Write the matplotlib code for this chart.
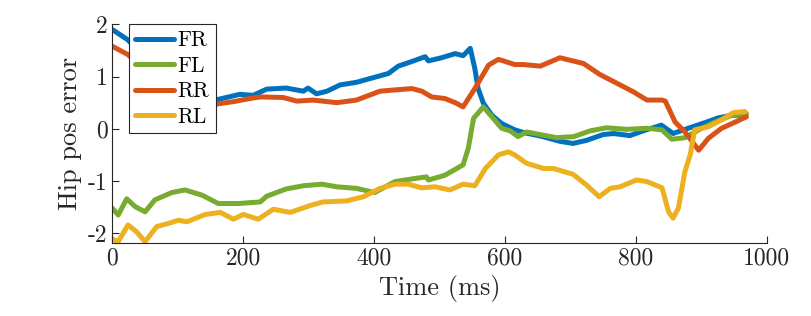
#!/usr/bin/env python3
"""Hip position error per leg over one stance window."""

import matplotlib

matplotlib.use("Agg")
import matplotlib.pyplot as plt

# series (time in ms, error in rad-ish units)
FR_T = [0, 12, 24, 60, 100, 130, 157, 195, 215, 236, 266, 292, 299, 312, 328, 348, 373, 399, 422,
        437, 458, 478, 483, 503, 524, 536, 547, 554, 559, 567, 580, 595, 615, 628, 658, 684, 704,
        725, 750, 766, 791, 811, 839, 857, 880, 906, 926, 947, 967]
FR_V = [1.90, 1.80, 1.70, 1.20, 0.80, 0.60, 0.55, 0.66, 0.64, 0.76, 0.78, 0.72, 0.78, 0.67, 0.72,
        0.84, 0.89, 0.98, 1.06, 1.20, 1.29, 1.38, 1.30, 1.36, 1.44, 1.40, 1.54, 1.15, 0.77, 0.49,
        0.26, 0.10, -0.02, -0.07, -0.15, -0.24, -0.28, -0.22, -0.11, -0.09, -0.13, -0.04, 0.07,
        -0.09, 0.01, 0.12, 0.21, 0.26, 0.26]

FL_T = [0, 9, 22, 35, 50, 65, 91, 111, 137, 162, 193, 226, 236, 266, 292, 320, 343, 373, 401,
        432, 463, 480, 483, 508, 536, 544, 552, 567, 580, 595, 608, 620, 633, 679, 705, 730, 755,
        786, 817, 840, 855, 875, 896, 921, 947, 969]
FL_V = [-1.52, -1.65, -1.34, -1.49, -1.59, -1.36, -1.22, -1.17, -1.27, -1.43, -1.43, -1.40,
        -1.29, -1.15, -1.09, -1.06, -1.11, -1.14, -1.22, -1.01, -0.95, -0.92, -0.98, -0.89,
        -0.69, -0.37, 0.20, 0.42, 0.23, 0.01, -0.04, -0.15, -0.06, -0.17, -0.15, -0.04, 0.02,
        -0.01, 0.01, -0.02, -0.20, -0.17, -0.02, 0.13, 0.26, 0.29]

RR_T = [0, 12, 24, 60, 100, 130, 157, 185, 210, 226, 261, 282, 307, 343, 373, 409, 427, 458,
        473, 488, 508, 524, 536, 554, 575, 590, 615, 628, 654, 684, 720, 745, 776, 796, 817,
        840, 845, 860, 875, 896, 911, 931, 952, 969]
RR_V = [1.58, 1.50, 1.42, 1.00, 0.70, 0.55, 0.47, 0.52, 0.58, 0.61, 0.60, 0.53, 0.55, 0.50,
        0.55, 0.72, 0.74, 0.77, 0.72, 0.61, 0.58, 0.50, 0.42, 0.77, 1.22, 1.33, 1.23, 1.23,
        1.20, 1.36, 1.25, 1.04, 0.84, 0.71, 0.55, 0.55, 0.53, 0.13, -0.06, -0.41, -0.18, 0.01,
        0.13, 0.23]

RL_T = [0, 9, 24, 37, 50, 68, 86, 101, 114, 142, 165, 185, 200, 223, 246, 272, 302, 322, 358,
        384, 409, 432, 452, 473, 493, 516, 536, 554, 570, 590, 605, 615, 633, 659, 674, 704,
        725, 744, 761, 776, 801, 817, 840, 850, 857, 865, 875, 883, 890, 911, 931, 949, 967]
RL_V = [-2.11, -2.16, -1.84, -1.97, -2.16, -1.87, -1.81, -1.75, -1.78, -1.64, -1.60, -1.73,
        -1.64, -1.73, -1.54, -1.60, -1.47, -1.40, -1.38, -1.30, -1.14, -1.06, -1.06, -1.13,
        -1.11, -1.17, -1.06, -1.09, -0.76, -0.50, -0.44, -0.50, -0.66, -0.76, -0.76, -0.87,
        -1.08, -1.30, -1.14, -1.11, -0.98, -1.01, -1.13, -1.59, -1.71, -1.52, -0.82, -0.50,
        -0.02, 0.04, 0.17, 0.31, 0.33]

LEGS = ["FR", "FL", "RR", "RL"]
X_TICKS = [0, 200, 400, 600, 800, 1000]
Y_TICKS = [-2, -1, 0, 1, 2]
Y_TICK_LABELS = ["-2", "-1", "0", "1", "2"]


def main() -> int:
    plt.rcParams["font.family"] = ["cmr10", "DejaVu Serif"]
    plt.rcParams["axes.formatter.use_mathtext"] = True

    fig = plt.figure(figsize=(8.11, 3.16), dpi=100)
    ax = fig.add_axes([0.1385, 0.232, 0.8069, 0.691])

    colors = {"FR": "#0072BD", "FL": "#77AC30", "RR": "#D95319", "RL": "#EDB120"}
    series = {"FR": (FR_T, FR_V), "FL": (FL_T, FL_V), "RR": (RR_T, RR_V), "RL": (RL_T, RL_V)}
    for leg in LEGS:
        t, v = series[leg]
        ax.plot(t, v, color=colors[leg], linewidth=3.6, label=leg, solid_capstyle="round")

    ax.set_xlim(0, 1000)
    ax.set_ylim(-2.18, 2)
    ax.set_xticks(X_TICKS)
    ax.set_xticklabels([str(x) for x in X_TICKS])
    ax.set_yticks(Y_TICKS)
    ax.set_yticklabels(Y_TICK_LABELS)
    for side in ("top", "right"):
        ax.spines[side].set_visible(False)
    for side in ("left", "bottom"):
        ax.spines[side].set_color("#262626")
        ax.spines[side].set_linewidth(0.8)
    ax.tick_params(direction="in", length=5, width=0.8, colors="#262626", labelsize=17)
    ax.set_xlabel("Time (ms)", fontsize=19, color="#262626")
    ax.set_ylabel("Hip pos error", fontsize=19, color="#262626")

    leg = ax.legend(loc="upper left", bbox_to_anchor=(0.0255, 1.0), borderaxespad=0,
                    fontsize=15.5, fancybox=False, framealpha=1, edgecolor="#262626",
                    handlelength=1.8, handletextpad=0.15, labelspacing=0.28, borderpad=0.3)
    leg.get_frame().set_linewidth(0.8)

    fig.savefig("out.png", dpi=100)
    plt.close(fig)
    return 0


if __name__ == "__main__":
    raise SystemExit(main())
